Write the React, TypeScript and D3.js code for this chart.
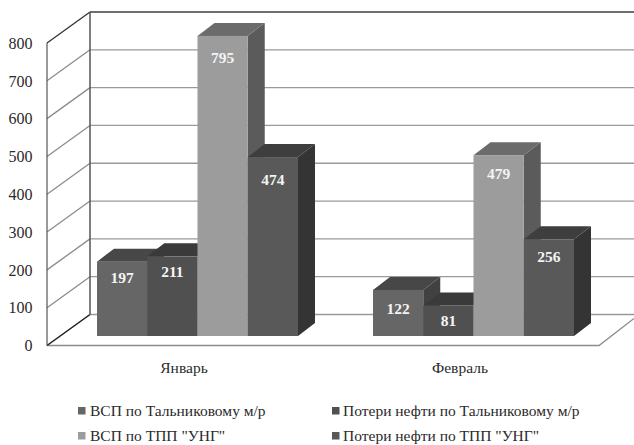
import React from "react";
import * as d3 from "d3";

const categories = ["Январь", "Февраль"];
const seriesNames = [
  "ВСП по Тальниковому м/р",
  "Потери нефти по Тальниковому м/р",
  'ВСП по ТПП "УНГ"',
  'Потери нефти по ТПП "УНГ"',
];
const januaryValues = [197, 211, 795, 474];
const februaryValues = [122, 81, 479, 256];
const yTicks = [0, 100, 200, 300, 400, 500, 600, 700, 800];

const frontFill = ["#666666", "#505050", "#9c9c9c", "#595959"];
const topFill = ["#474747", "#3a3a3a", "#6b6b6b", "#3e3e3e"];
const sideFill = ["#414141", "#353535", "#5b5b5b", "#343434"];

// How far each value label sits below the top of its bar.
const januaryLabelDrop = [21, 21, 27, 28];
const februaryLabelDrop = [24, 21, 24, 23];

const W = 634;
const H = 445;
const DX = 43; // wall depth, horizontal
const DY = -31; // wall depth, vertical
const BAR_DX = 17;
const BAR_DY = -13;
const FONT = "'Liberation Serif', 'Times New Roman', serif";
const TEXT = "#2a2a2a";

// Vertical scale on the front plane of the floor; bars sit a little further in.
const yFront = d3.scaleLinear().domain([0, 800]).range([345.5, 43]);
const yBar = d3.scaleLinear().domain([0, 800]).range([336, 34]);
const xCat = d3.scaleBand<string>().domain(categories).range([47, 599]);
const xSeries = d3.scaleBand<string>().domain(seriesNames).range([50, 251]);

const poly = (pts: [number, number][]) => "M" + pts.map((p) => p.join(",")).join("L") + "Z";

const legendSlots = [
  { x: 78, y: 416 },
  { x: 332, y: 416 },
  { x: 78, y: 441 },
  { x: 332, y: 441 },
];

export default function App() {
  const rows = [januaryValues, februaryValues];
  const drops = [januaryLabelDrop, februaryLabelDrop];
  const base = yFront(0);
  return (
    <svg
      width={W}
      height={H}
      viewBox={`0 0 ${W} ${H}`}
      style={{ position: "fixed", left: 0, top: 0, background: "#fff" }}
      fontFamily={FONT}
    >
      {/* back wall and side wall grid */}
      {yTicks.map((t) => {
        const y = yFront(t);
        return (
          <g key={t} fill="none">
            <line x1={47} y1={y} x2={47 + DX} y2={y + DY} stroke={t === 800 ? "#333" : "#8c8c8c"} strokeWidth={1.3} />
            <line
              x1={47 + DX}
              y1={y + DY}
              x2={W}
              y2={y + DY}
              stroke={t === 800 ? "#6e6e6e" : "#9a9a9a"}
              strokeWidth={t === 800 ? 1.8 : 1.3}
            />
          </g>
        );
      })}
      {/* floor edges */}
      <path d={`M47,${base}L${xCat.range()[1]},${base}L${W},${base - 27}`} fill="none" stroke="#8c8c8c" strokeWidth={1.3} />
      <line x1={47} y1={base} x2={47 + DX} y2={base + DY} stroke="#222" strokeWidth={1.2} />
      {/* axes */}
      <line x1={47} y1={yFront(800)} x2={47} y2={base} stroke="#555" strokeWidth={1.2} />
      <line x1={47 + DX} y1={yFront(800) + DY} x2={47 + DX} y2={base + DY} stroke="#555" strokeWidth={1.5} />

      {/* bars */}
      {categories.map((c, ci) =>
        seriesNames.map((s, si) => {
          const v = rows[ci][si];
          const x = xCat(c)! + xSeries(s)!;
          const w = xSeries.bandwidth();
          const y = yBar(v);
          const b = yBar(0);
          return (
            <g key={c + s}>
              <path d={poly([[x + w, y], [x + w + BAR_DX, y + BAR_DY], [x + w + BAR_DX, b + BAR_DY], [x + w, b]])} fill={sideFill[si]} />
              <path d={poly([[x, y], [x + BAR_DX, y + BAR_DY], [x + w + BAR_DX, y + BAR_DY], [x + w, y]])} fill={topFill[si]} />
              <rect x={x} y={y} width={w} height={b - y} fill={frontFill[si]} />
            </g>
          );
        })
      )}

      {/* value labels */}
      {categories.map((c, ci) =>
        seriesNames.map((s, si) => {
          const v = rows[ci][si];
          const x = xCat(c)! + xSeries(s)! + xSeries.bandwidth() / 2;
          return (
            <text key={c + s} x={x} y={yBar(v) + drops[ci][si]} textAnchor="middle" fontSize={15.5} fontWeight="bold" fill="#f4f4f4">
              {v}
            </text>
          );
        })
      )}

      {/* axis labels */}
      {yTicks.map((t) => (
        <text key={t} x={32.5} y={yFront(t) + 5.7} textAnchor="end" fontSize={16} fill={TEXT}>
          {t}
        </text>
      ))}
      {categories.map((c) => (
        <text key={c} x={xCat(c)! + xCat.bandwidth() / 2 - 1} y={373} textAnchor="middle" fontSize={15.5} fill={TEXT}>
          {c}
        </text>
      ))}

      {/* legend */}
      {seriesNames.map((s, i) => (
        <g key={s}>
          <rect x={legendSlots[i].x} y={legendSlots[i].y - 9} width={7.5} height={7.5} fill={frontFill[i]} />
          <text x={legendSlots[i].x + (i % 2 ? 11 : 12)} y={legendSlots[i].y} fontSize={15.5} fill={TEXT}>
            {s}
          </text>
        </g>
      ))}
    </svg>
  );
}
